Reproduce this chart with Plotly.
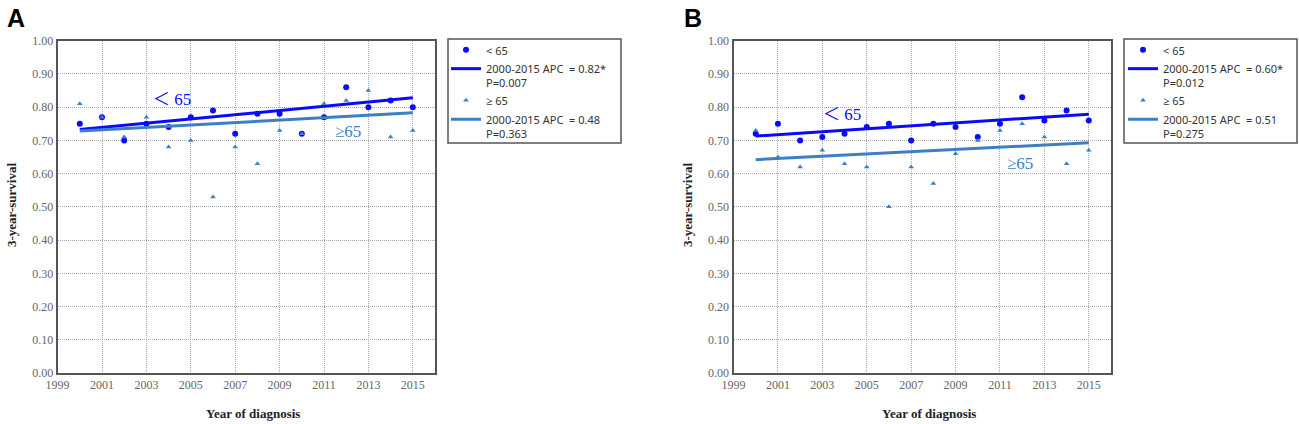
import plotly.graph_objects as go

# ---------------- data ----------------
years = list(range(2000, 2016))

# Panel A
a_lt65 = [0.75, 0.77, 0.70, 0.75, 0.74, 0.77, 0.79, 0.72, 0.78, 0.78, 0.72, 0.77, 0.86, 0.80, 0.82, 0.80]
a_ge65 = [0.81, 0.77, 0.71, 0.77, 0.68, 0.70, 0.53, 0.68, 0.63, 0.73, 0.72, 0.81, 0.82, 0.85, 0.71, 0.73]
a_fit_years = [2000, 2015]
a_fit_lt65 = [0.733, 0.828]
a_fit_ge65 = [0.728, 0.783]
a_apc_lt65 = "2000-2015 APC \u00a0= 0.82*<br>P=0.007"
a_apc_ge65 = "2000-2015 APC \u00a0= 0.48<br>P=0.363"

# Panel B
b_lt65 = [0.72, 0.75, 0.70, 0.71, 0.72, 0.74, 0.75, 0.70, 0.75, 0.74, 0.71, 0.75, 0.83, 0.76, 0.79, 0.76]
b_ge65 = [0.73, 0.65, 0.62, 0.67, 0.63, 0.62, 0.50, 0.62, 0.57, 0.66, 0.70, 0.73, 0.75, 0.71, 0.63, 0.67]
b_fit_years = [2000, 2015]
b_fit_lt65 = [0.713, 0.779]
b_fit_ge65 = [0.642, 0.693]
b_apc_lt65 = "2000-2015 APC \u00a0= 0.60*<br>P=0.012"
b_apc_ge65 = "2000-2015 APC \u00a0= 0.51<br>P=0.275"

x_ticks = list(range(1999, 2016, 2))
y_ticks = [i / 10 for i in range(11)]

# ---------------- style ----------------
W, H = 1299, 424
BLUE = "#0a0aff"
STEEL = "#3d7fc2"
SERIF = "Liberation Serif, Times New Roman, serif"
SANS = "Noto Sans, Open Sans, sans-serif"

def px_x(p):
    return p / W

def px_y(p):
    return 1 - p / H

fig = go.Figure()

panels = [
    ("x", "y", "legend", a_lt65, a_ge65, a_fit_years, a_fit_lt65, a_fit_ge65, a_apc_lt65, a_apc_ge65),
    ("x2", "y2", "legend2", b_lt65, b_ge65, b_fit_years, b_fit_lt65, b_fit_ge65, b_apc_lt65, b_apc_ge65),
]
for xa, ya, lg, lt, ge, fy, flt, fge, nlt, nge in panels:
    fig.add_trace(go.Scatter(x=years, y=lt, mode="markers", xaxis=xa, yaxis=ya, legend=lg,
                             marker=dict(symbol="circle", size=6, color=BLUE),
                             name="&lt; 65"))
    fig.add_trace(go.Scatter(x=fy, y=flt, mode="lines", xaxis=xa, yaxis=ya, legend=lg,
                             line=dict(color=BLUE, width=3), name=nlt))
    fig.add_trace(go.Scatter(x=years, y=ge, mode="markers", xaxis=xa, yaxis=ya, legend=lg,
                             marker=dict(symbol="triangle-up", size=5, color=STEEL),
                             name="\u2265 65"))
    fig.add_trace(go.Scatter(x=fy, y=fge, mode="lines", xaxis=xa, yaxis=ya, legend=lg,
                             line=dict(color=STEEL, width=3), name=nge))

ydom = [px_y(373), px_y(40.7)]
axis_common = dict(showline=True, linecolor="#555", linewidth=2, mirror=True,
                   showgrid=True, gridcolor="#a8a8a8", gridwidth=1, griddash="1px,1px",
                   zeroline=False, ticks="", automargin=False, fixedrange=True,
                   tickfont=dict(family=SERIF, size=12, color="#666"))
fig.update_layout(
    xaxis=dict(domain=[px_x(57.6), px_x(435)], range=[1999, 2016], tickvals=x_ticks,
               anchor="y", **axis_common),
    yaxis=dict(domain=ydom, range=[0, 1], tickvals=y_ticks, tickformat=".2f",
               anchor="x", **axis_common),
    xaxis2=dict(domain=[px_x(733.5), px_x(1111)], range=[1999, 2016], tickvals=x_ticks,
                anchor="y2", **axis_common),
    yaxis2=dict(domain=ydom, range=[0, 1], tickvals=y_ticks, tickformat=".2f",
                anchor="x2", **axis_common),
)

leg_common = dict(font=dict(family=SANS, size=11, color="#333"), bgcolor="rgba(0,0,0,0)",
                  borderwidth=0, tracegroupgap=0, valign="top", itemwidth=30,
                  xanchor="left", yanchor="top")
fig.update_layout(
    legend=dict(x=px_x(446), y=px_y(36), **leg_common),
    legend2=dict(x=px_x(1123), y=px_y(36), **leg_common),
    showlegend=True,
)

# legend frames
for x0, x1 in [(448, 621), (1124, 1297)]:
    fig.add_shape(type="rect", xref="paper", yref="paper",
                  x0=px_x(x0), x1=px_x(x1), y0=px_y(143), y1=px_y(39),
                  line=dict(color="#555", width=1.5))

ann = []
def add_ann(**kw):
    kw.setdefault("showarrow", False)
    kw.setdefault("xanchor", "center")
    kw.setdefault("yanchor", "middle")
    ann.append(kw)

# panel letters
add_ann(text="<b>A</b>", x=px_x(15.5), y=px_y(18), xref="paper", yref="paper",
        font=dict(family="Liberation Sans, Arial", size=25, color="black"))
add_ann(text="<b>B</b>", x=px_x(693), y=px_y(18), xref="paper", yref="paper",
        font=dict(family="Liberation Sans, Arial", size=25, color="black"))
# axis titles
for cx in [253, 929]:
    add_ann(text="<b>Year of diagnosis</b>", x=px_x(cx), y=px_y(413), xref="paper", yref="paper",
            font=dict(family=SERIF, size=13, color="#222"))
for cx in [12, 688]:
    add_ann(text="<b>3-year-survival</b>", x=px_x(cx), y=px_y(205), xref="paper", yref="paper",
            textangle=-90, font=dict(family=SERIF, size=13, color="#222"))
# in-plot labels
add_ann(text="\uff1c 65", x=2004.15, y=0.824, xref="x", yref="y",
        font=dict(family=SERIF + ", Noto Sans CJK SC", size=17, color=BLUE))
add_ann(text="\u226565", x=2012.1, y=0.727, xref="x", yref="y",
        font=dict(family=SERIF, size=17, color=STEEL))
add_ann(text="\uff1c 65", x=2003.9, y=0.777, xref="x2", yref="y2",
        font=dict(family=SERIF + ", Noto Sans CJK SC", size=17, color=BLUE))
add_ann(text="\u226565", x=2011.9, y=0.629, xref="x2", yref="y2",
        font=dict(family=SERIF, size=17, color=STEEL))

fig.update_layout(annotations=ann, width=W, height=H, autosize=False,
                  margin=dict(l=0, r=0, t=0, b=0, pad=0, autoexpand=False),
                  paper_bgcolor="white", plot_bgcolor="white")

fig.write_html("out.html", config={"displayModeBar": False},
               post_script="document.body.style.margin='0';document.body.style.overflow='hidden';")
